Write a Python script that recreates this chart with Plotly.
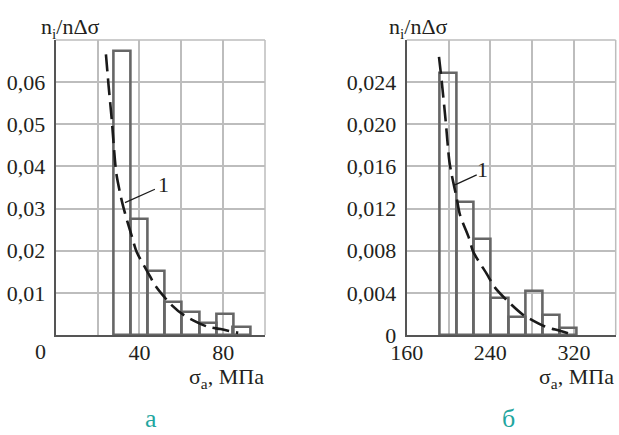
import plotly.graph_objects as go
from plotly.subplots import make_subplots

# ---------------- data: panel "а" ----------------
a_bin_centers = [31.6, 39.8, 48.0, 56.3, 64.5, 72.8, 80.9, 88.9]
a_bin_width = 8.2
a_freq = [0.0674, 0.0275, 0.0152, 0.0079, 0.0054, 0.0029, 0.0049, 0.0019]
a_curve_x = [24.0, 25.3, 26.8, 28.3, 29.1, 31.5, 33.1, 36.5, 38.7, 44.2, 47.9, 55.4, 61.3, 72.4, 78.8, 87.2]
a_curve_y = [0.0666, 0.0590, 0.0510, 0.0415, 0.0379, 0.0320, 0.0289, 0.0232, 0.0197, 0.0147, 0.0115, 0.0071, 0.0047, 0.0020, 0.0014, 0.0005]
a_xticks = [20, 40, 60, 80]
a_xticktext = ["", "40", "", "80"]
a_yticks = [0.01, 0.02, 0.03, 0.04, 0.05, 0.06]
a_yticktext = ["0,01", "0,02", "0,03", "0,04", "0,05", "0,06"]

# ---------------- data: panel "б" ----------------
b_bin_centers = [199.8, 216.1, 232.5, 249.0, 265.5, 282.0, 298.4, 314.7]
b_bin_width = 16.4
b_freq = [0.02485, 0.0126, 0.0091, 0.0035, 0.0017, 0.0042, 0.0019, 0.0007]
b_curve_x = [190.9, 193.5, 197.3, 200.8, 203.1, 207.8, 211.0, 219.6, 223.7, 236.6, 244.5, 260.5, 271.6, 292.3, 306.7, 316.3]
b_curve_y = [0.0264, 0.0241, 0.0203, 0.0165, 0.0152, 0.0130, 0.0114, 0.0092, 0.0079, 0.0058, 0.0045, 0.00285, 0.0019, 0.0008, 0.0004, 0.0001]
b_xticks = [160, 200, 240, 280, 320]
b_xticktext = ["160", "", "240", "", "320"]
b_yticks = [0, 0.004, 0.008, 0.012, 0.016, 0.020, 0.024]
b_yticktext = ["0", "0,004", "0,008", "0,012", "0,016", "0,020", "0,024"]

FONT = "Liberation Serif, Times New Roman, serif"
TXT = "#231f20"
GRID = "#bdbdbd"
AXIS = "#555555"
BAR = "#666666"
TEAL = "#1fa6a0"
W, H = 619, 435

fig = make_subplots(rows=1, cols=2)

fig.add_trace(go.Bar(x=a_bin_centers, y=a_freq, width=a_bin_width,
                     marker=dict(color="rgba(0,0,0,0)", line=dict(color=BAR, width=2.6)),
                     showlegend=False), row=1, col=1)
fig.add_trace(go.Scatter(x=a_curve_x, y=a_curve_y, mode="lines",
                         line=dict(color="#1a1a1a", width=2.6, dash="17px,7px", shape="spline", smoothing=0.8),
                         showlegend=False), row=1, col=1)
fig.add_trace(go.Bar(x=b_bin_centers, y=b_freq, width=b_bin_width,
                     marker=dict(color="rgba(0,0,0,0)", line=dict(color=BAR, width=2.6)),
                     showlegend=False), row=1, col=2)
fig.add_trace(go.Scatter(x=b_curve_x, y=b_curve_y, mode="lines",
                         line=dict(color="#1a1a1a", width=2.6, dash="17px,7px", shape="spline", smoothing=0.8),
                         showlegend=False), row=1, col=2)

tickfont = dict(family=FONT, size=22, color=TXT)
ax_common = dict(showgrid=True, gridcolor=GRID, gridwidth=1.5, zeroline=False, automargin=False,
                 showline=True, linecolor=AXIS, linewidth=2, ticks="", tickfont=tickfont,
                 tickmode="array", fixedrange=True)

ytop = 1 - 40 / H
ybot = 1 - 335 / H
fig.update_layout(
    width=W, height=H, margin=dict(l=0, r=0, t=0, b=0, autoexpand=False),
    paper_bgcolor="white", plot_bgcolor="white", bargap=0,
    font=dict(family=FONT, color=TXT),
    xaxis=dict(domain=[55.7 / W, 265 / W], range=[0, 100], tickvals=a_xticks, ticktext=a_xticktext,
               ticklabelstandoff=-3, **ax_common),
    yaxis=dict(domain=[ybot, ytop], range=[0, 0.07], tickvals=a_yticks, ticktext=a_yticktext,
               ticklabelstandoff=4, **ax_common),
    xaxis2=dict(domain=[406.7 / W, 615.7 / W], range=[160, 360], tickvals=b_xticks, ticktext=b_xticktext,
                ticklabelstandoff=-3, **ax_common),
    yaxis2=dict(domain=[ybot, ytop], range=[0, 0.028], tickvals=b_yticks, ticktext=b_yticktext,
                ticklabelstandoff=4, **ax_common),
)

# top and right borders (grid-coloured)
for xr, yr in (("x", "y"), ("x2", "y2")):
    fig.add_shape(type="line", xref=f"{xr} domain", yref=f"{yr} domain", x0=0, x1=1, y0=1, y1=1,
                  line=dict(color=GRID, width=1.5), layer="below")
    fig.add_shape(type="line", xref=f"{xr} domain", yref=f"{yr} domain", x0=1, x1=1, y0=0, y1=1,
                  line=dict(color=GRID, width=1.5), layer="below")

# leader lines for label "1"
fig.add_shape(type="line", xref="x", yref="y", x0=33.1, y0=0.0314, x1=47.4, y1=0.0346,
              line=dict(color="#1a1a1a", width=1.2))
fig.add_shape(type="line", xref="x2", yref="y2", x0=206.2, y0=0.01425, x1=227, y1=0.0152,
              line=dict(color="#1a1a1a", width=1.2))

ann_font = dict(family=FONT, size=22, color=TXT)
title_font = dict(family=FONT, size=22, color=TXT)
panel_font = dict(family=FONT, size=26, color=TEAL)
anns = [
    dict(x=51.7, y=0.0357, xref="x", yref="y", text="1", font=ann_font),
    dict(x=233, y=0.01567, xref="x2", yref="y2", text="1", font=ann_font),
    dict(x=70 / W, y=1 - 28 / H, xref="paper", yref="paper", text="n<sub>i</sub>/nΔσ", font=title_font),
    dict(x=418 / W, y=1 - 28 / H, xref="paper", yref="paper", text="n<sub>i</sub>/nΔσ", font=title_font),
    dict(x=266 / W, y=1 - 378 / H, xref="paper", yref="paper", xanchor="right", text="σ<sub>a</sub>, МПа", font=title_font),
    dict(x=616 / W, y=1 - 378 / H, xref="paper", yref="paper", xanchor="right", text="σ<sub>a</sub>, МПа", font=title_font),
    dict(x=40 / W, y=1 - 351 / H, xref="paper", yref="paper", text="0", font=ann_font),
    dict(x=151 / W, y=0, xref="paper", yref="paper", yanchor="bottom", text="а", font=panel_font),
    dict(x=508 / W, y=0, xref="paper", yref="paper", yanchor="bottom", text="б", font=panel_font),
]
for a in anns:
    a.setdefault("showarrow", False)
    a.setdefault("xanchor", "center")
    a.setdefault("yanchor", "middle")
    fig.add_annotation(**a)

fig.write_html("out.html")
